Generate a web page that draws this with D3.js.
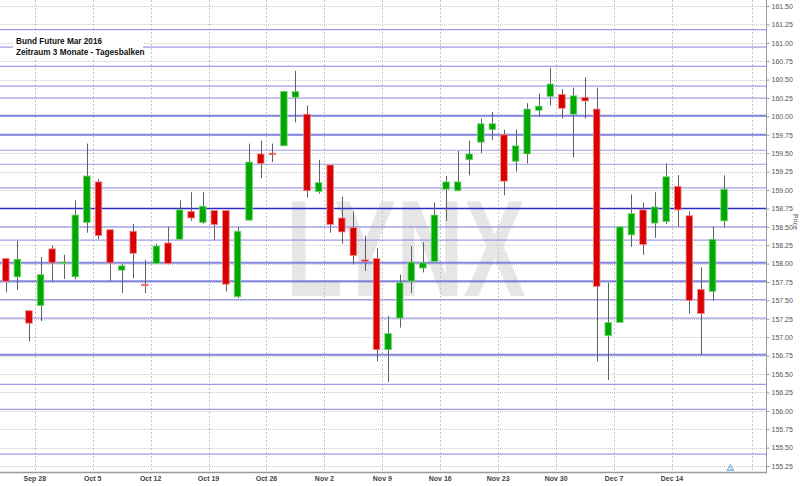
<!DOCTYPE html>
<html><head><meta charset="utf-8">
<script src="https://cdn.jsdelivr.net/npm/d3@7/dist/d3.min.js"></script>
<style>html,body{margin:0;padding:0;background:#fff;}svg{display:block;}</style>
</head><body>
<svg id="chart" width="800" height="486"></svg>
<script>
const dates = ["2015-09-23","2015-09-24","2015-09-25","2015-09-28","2015-09-29","2015-09-30",
"2015-10-01","2015-10-02","2015-10-05","2015-10-06","2015-10-07","2015-10-08","2015-10-09",
"2015-10-12","2015-10-13","2015-10-14","2015-10-15","2015-10-16","2015-10-19","2015-10-20",
"2015-10-21","2015-10-22","2015-10-23","2015-10-26","2015-10-27","2015-10-28","2015-10-29","2015-10-30",
"2015-11-02","2015-11-03","2015-11-04","2015-11-05","2015-11-06","2015-11-09","2015-11-10","2015-11-11",
"2015-11-12","2015-11-13","2015-11-16","2015-11-17","2015-11-18","2015-11-19","2015-11-20","2015-11-23",
"2015-11-24","2015-11-25","2015-11-26","2015-11-27","2015-11-30","2015-12-01","2015-12-02","2015-12-03",
"2015-12-04","2015-12-07","2015-12-08","2015-12-09","2015-12-10","2015-12-11","2015-12-14","2015-12-15",
"2015-12-16","2015-12-17","2015-12-18"];
const open  = [158.07,157.82,157.36,157.43,158.20,158.00,157.82,158.56,159.11,158.46,157.91,158.44,157.72,158.00,158.28,158.33,158.71,158.56,158.72,158.72,157.55,158.59,159.49,159.50,159.60,160.26,160.03,158.98,159.34,158.62,158.49,158.05,158.07,156.83,157.26,157.76,157.94,158.03,159.01,158.99,159.41,159.65,159.82,159.75,159.39,159.49,160.08,160.27,160.30,160.03,160.26,160.10,157.02,157.20,158.39,158.73,158.55,158.57,159.05,158.65,157.65,157.62,158.58];
const high  = [158.08,158.31,157.36,158.09,158.25,158.12,158.86,159.63,159.15,158.46,158.00,158.54,158.05,158.27,158.50,158.86,158.97,158.97,158.72,158.72,158.50,159.63,159.67,159.63,160.35,160.62,160.15,159.41,159.34,158.91,158.71,158.38,158.21,157.29,157.85,158.24,158.29,158.83,159.19,159.53,159.67,159.97,160.06,159.82,159.82,160.18,160.31,160.66,160.37,160.39,160.53,160.39,157.74,158.50,158.94,158.83,158.97,159.36,159.20,158.71,157.95,158.50,159.20];
const low   = [157.61,157.64,156.94,157.22,157.76,157.79,157.79,158.42,158.33,157.76,157.60,157.80,157.60,158.00,157.99,158.32,158.58,158.54,158.32,157.62,157.53,158.59,159.16,159.38,159.60,159.92,158.90,158.95,158.42,158.27,157.99,157.90,156.67,156.39,157.13,157.60,157.88,158.03,158.58,158.99,159.20,159.50,159.68,158.93,159.25,159.36,160.00,160.15,159.97,159.44,159.97,156.67,156.42,157.20,158.23,158.12,158.35,158.54,158.50,157.32,156.76,157.50,158.49];
const close = [157.76,158.06,157.19,157.85,158.01,158.02,158.66,159.19,158.38,158.01,157.97,158.14,157.70,158.24,158.00,158.73,158.62,158.78,158.53,157.72,158.44,159.38,159.36,159.49,160.34,160.34,158.99,159.10,158.53,158.43,158.11,158.03,156.83,157.05,157.74,158.02,158.01,158.66,159.11,159.11,159.49,159.90,159.90,159.12,159.60,160.10,160.14,160.44,160.11,160.28,160.21,157.69,157.20,158.50,158.68,158.26,158.77,159.18,158.73,157.50,157.32,158.33,159.01];

const priceTicks = [155.25,155.50,155.75,156.00,156.25,156.50,156.75,157.00,157.25,157.50,157.75,158.00,158.25,158.50,158.75,159.00,159.25,159.50,159.75,160.00,160.25,160.50,160.75,161.00,161.25,161.50];
const weekTicks = ["2015-09-28","2015-10-05","2015-10-12","2015-10-19","2015-10-26","2015-11-02","2015-11-09","2015-11-16","2015-11-23","2015-11-30","2015-12-07","2015-12-14"];
const weekLabels = ["Sep 28","Oct 5","Oct 12","Oct 19","Oct 26","Nov 2","Nov 9","Nov 16","Nov 23","Nov 30","Dec 7","Dec 14"];
const levels = [161.18,160.94,160.68,160.41,160.25,160.01,159.75,159.54,159.35,159.03,158.75,158.50,158.32,158.01,157.76,157.51,157.26,156.76,156.36,156.02,155.41];
const levelStrength = [1,1,1,1,1,2,2,1,1,1,3,1,1,2,2,1,1,2,1,1,1];
const titleLines = ["Bund Future Mar 2016","Zeitraum 3 Monate - Tagesbalken"];

const svg = d3.select("#chart");
const axisX = 766.5, axisY = 472.5;

const x = d3.scaleBand().domain(dates).range([0, 729.9]).padding(0);
const y = d3.scaleLinear().domain([155.25, 161.5]).range([466, 6]);

// watermark
svg.append("text").attr("x", 285.7).attr("y", 296)
  .attr("font-family", "Liberation Sans, Arial, sans-serif").attr("font-weight", "bold")
  .attr("font-size", 138).attr("fill", "#e6e6e6")
  .attr("textLength", 240).attr("lengthAdjust", "spacingAndGlyphs")
  .text("LYNX");

// dotted grid
const grid = svg.append("g");
grid.selectAll("line.h").data(priceTicks).join("line")
  .attr("x1", 0).attr("x2", axisX).attr("y1", d => Math.round(y(d)) + 0.5).attr("y2", d => Math.round(y(d)) + 0.5)
  .attr("stroke", "#c8c8c8").attr("stroke-dasharray", "1,1");
const vgrid = weekTicks.map(d => x(d)).concat([752]);
grid.selectAll("line.v").data(vgrid).join("line")
  .attr("x1", d => Math.round(d) + 0.5).attr("x2", d => Math.round(d) + 0.5).attr("y1", 0).attr("y2", axisY)
  .attr("stroke", "#c8c8c8").attr("stroke-dasharray", "2,2");

// level lines
const levelColor = {1: "#8c8ce6", 2: "#6f6fdc", 3: "#2b2bcc"};
const levelWidth = {1: 1.2, 2: 2, 3: 1.5};
svg.append("g").selectAll("line").data(levels.map((v, i) => ({v, s: levelStrength[i]}))).join("line")
  .attr("x1", 0).attr("x2", axisX)
  .attr("y1", d => y(d.v)).attr("y2", d => y(d.v))
  .attr("stroke", d => levelColor[d.s]).attr("stroke-width", d => levelWidth[d.s])
  .attr("stroke-opacity", d => d.s === 3 ? 1 : 0.85);

// title box
const tg = svg.append("g");
tg.append("rect").attr("x", 13).attr("y", 33).attr("width", 130).attr("height", 24).attr("fill", "#fff");
tg.selectAll("text").data(titleLines).join("text")
  .attr("x", 16).attr("y", (d, i) => 43.5 + i * 11)
  .attr("font-family", "Liberation Sans, Arial, sans-serif").attr("font-weight", "bold")
  .attr("font-size", 8.2).attr("fill", "#111").text(d => d);

// candles
const candles = dates.map((d, i) => ({d, o: open[i], h: high[i], l: low[i], c: close[i]}));
const cx = d => x(d.d) + x.bandwidth() / 2;
const cg = svg.append("g");
cg.selectAll("line").data(candles).join("line")
  .attr("x1", d => Math.round(cx(d)) + 0.5).attr("x2", d => Math.round(cx(d)) + 0.5)
  .attr("y1", d => y(d.h)).attr("y2", d => y(d.l))
  .attr("stroke", "#606060").attr("stroke-width", 1);
const bw = 6.6;
cg.selectAll("rect").data(candles).join("rect")
  .attr("x", d => cx(d) - bw / 2).attr("width", bw)
  .attr("y", d => y(Math.max(d.o, d.c)))
  .attr("height", d => Math.max(1.5, Math.abs(y(d.o) - y(d.c))))
  .attr("fill", d => d.c >= d.o ? "#00a800" : "#d80000")
  .attr("stroke", d => d.c >= d.o ? "#7fd47f" : "#f08a8a").attr("stroke-width", 0.8);

// axes
const yAxis = d3.axisRight(y).tickValues(priceTicks).tickFormat(d3.format(".2f")).tickSize(3).tickPadding(2);
const ya = svg.append("g").attr("transform", `translate(${axisX},0)`).call(yAxis);
ya.select(".domain").remove();
ya.selectAll("line").attr("stroke", "#999");
ya.selectAll("text").attr("font-family", "Liberation Sans, Arial, sans-serif").attr("font-size", 7).attr("fill", "#555");

const xAxis = d3.axisBottom(x).tickValues(weekTicks).tickFormat((d, i) => weekLabels[i]).tickSize(0).tickPadding(3.5);
const xa = svg.append("g").attr("transform", `translate(0,${axisY})`).call(xAxis);
xa.select(".domain").remove();
xa.selectAll(".tick").attr("transform", d => `translate(${x(d)},0)`);
xa.selectAll("text").attr("font-family", "Liberation Sans, Arial, sans-serif").attr("font-size", 7)
  .attr("font-weight", "bold").attr("fill", "#444");

svg.append("line").attr("x1", axisX).attr("x2", axisX).attr("y1", 0).attr("y2", axisY + 1)
  .attr("stroke", "#9a9a9a").attr("stroke-width", 1);
svg.append("line").attr("x1", 0).attr("x2", axisX).attr("y1", axisY).attr("y2", axisY)
  .attr("stroke", "#9a9a9a").attr("stroke-width", 1.5);

// Price label
svg.append("text").attr("transform", "translate(793,222) rotate(90)")
  .attr("text-anchor", "middle").attr("font-family", "Liberation Sans, Arial, sans-serif")
  .attr("font-size", 7).attr("fill", "#555").text("Price");

// marker triangle
svg.append("path").attr("d", d3.symbol().type(d3.symbolTriangle).size(22)())
  .attr("transform", `translate(${x(dates[dates.length - 1]) + x.bandwidth() + 0.5},468.5)`)
  .attr("fill", "#bcd8f2").attr("stroke", "#6fa6dc").attr("stroke-width", 0.8);
</script>
</body></html>
